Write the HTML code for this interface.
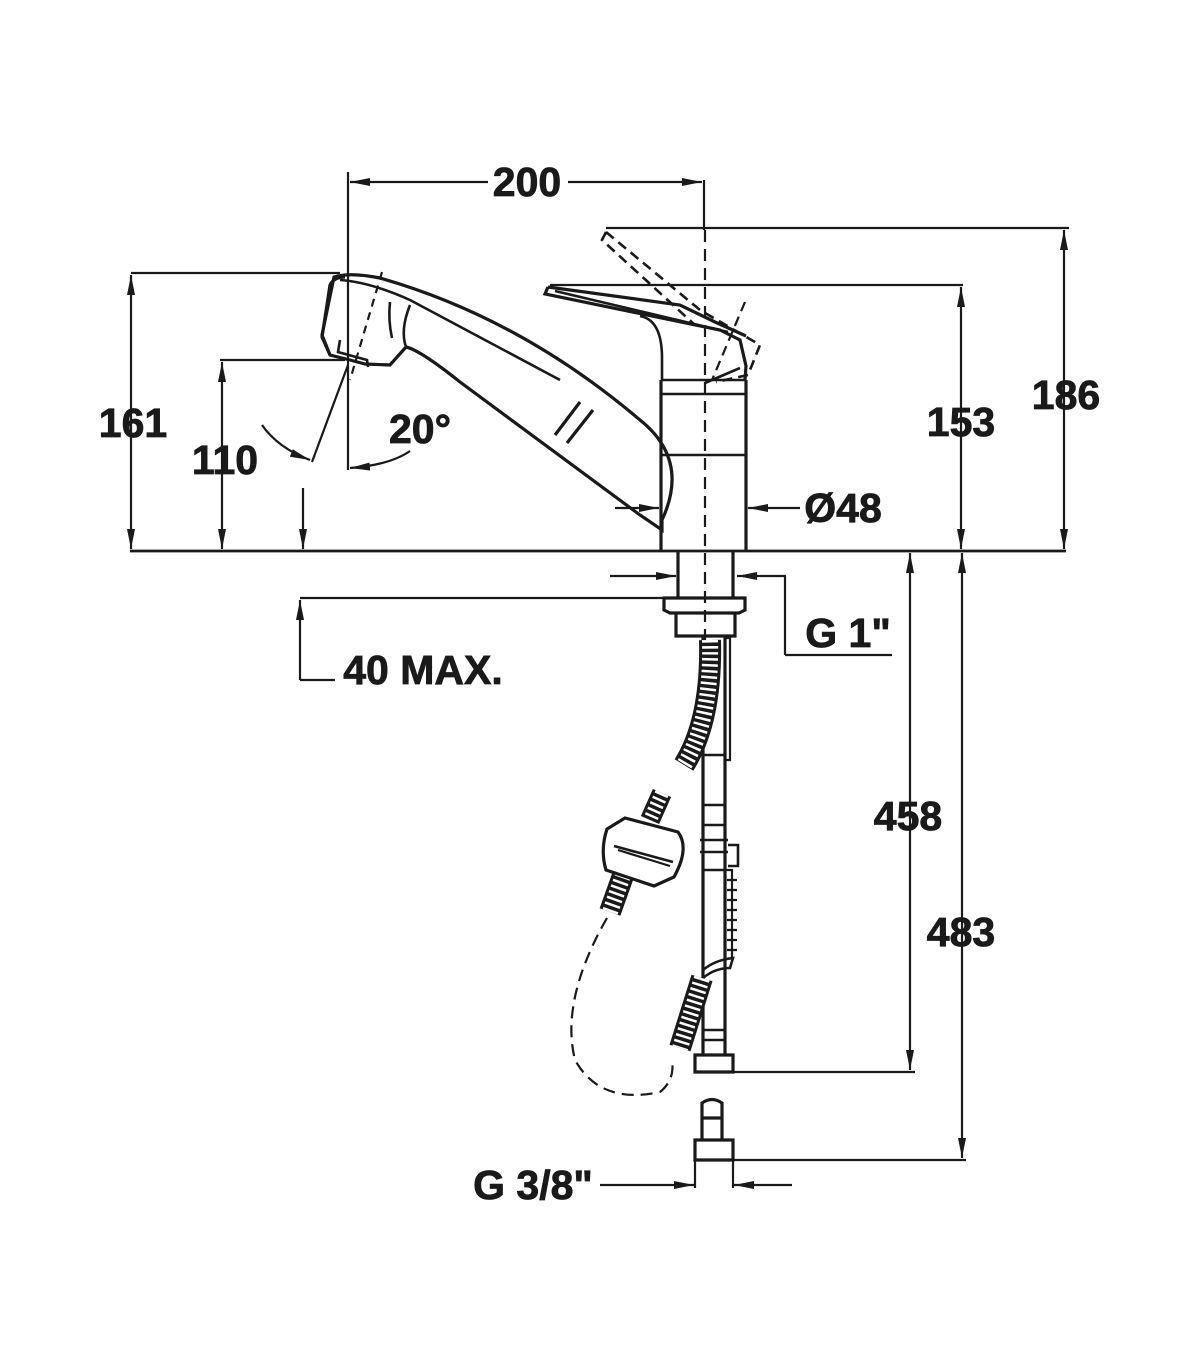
<!DOCTYPE html>
<html><head><meta charset="utf-8"><style>
html,body{margin:0;padding:0;background:#fff;}
svg{display:block;}
text{font-family:"Liberation Sans",sans-serif;font-weight:bold;font-size:41px;fill:#1a1a1a;stroke:#1a1a1a;stroke-width:0.8px;}
</style></head><body>
<svg width="1200" height="1372" viewBox="0 0 1200 1372" xmlns="http://www.w3.org/2000/svg">
<defs>
<marker id="a" viewBox="0 0 20 8" refX="20" refY="4" markerWidth="20" markerHeight="8" markerUnits="userSpaceOnUse" orient="auto-start-reverse"><path d="M0,0 L20,4 L0,8 Z" fill="#1a1a1a"/></marker>
</defs>
<g stroke="#1a1a1a" stroke-width="2.2" fill="none">
<line x1="130" y1="551" x2="1066" y2="551" stroke-width="2.8"/>
<line x1="348" y1="172" x2="348" y2="470"/>
<line x1="704" y1="180" x2="704" y2="230"/>
<line x1="350" y1="182" x2="488" y2="182" marker-start="url(#a)"/>
<line x1="568" y1="182" x2="702" y2="182" marker-end="url(#a)"/>
<line x1="131" y1="273" x2="340" y2="273"/>
<line x1="131" y1="275" x2="131" y2="549" marker-start="url(#a)" marker-end="url(#a)"/>
<line x1="220" y1="360" x2="345" y2="360"/>
<line x1="222" y1="362" x2="222" y2="549" marker-start="url(#a)" marker-end="url(#a)"/>
<line x1="303" y1="488" x2="303" y2="549" marker-end="url(#a)"/>
<line x1="348" y1="365" x2="312" y2="462"/>
<path d="M262,425 Q278,448 310,460" marker-end="url(#a)"/>
<path d="M410,451 Q390,465 350,468" marker-end="url(#a)"/>
<line x1="550" y1="285" x2="963" y2="285"/>
<line x1="961" y1="287" x2="961" y2="549" marker-start="url(#a)" marker-end="url(#a)"/>
<line x1="606" y1="228" x2="1069" y2="228"/>
<line x1="1064" y1="230" x2="1064" y2="549" marker-start="url(#a)" marker-end="url(#a)"/>
<line x1="615" y1="508" x2="659" y2="508" marker-end="url(#a)"/>
<line x1="800" y1="508" x2="748" y2="508" marker-end="url(#a)"/>
<line x1="705" y1="230" x2="705" y2="650" stroke-dasharray="12 7"/>
<path d="M661,380 L661,551 M746,380 L746,551" stroke-width="3.2"/>
<path d="M661,380 L746,380 M661,394 L746,394 M661,455 L746,455" stroke-width="2.6"/>
<path d="M548,287 L545,294 L720,330 L740,340 L746,366 L745,380 M548,287 L680,305 L715,322 L746,336" stroke-width="3.2"/>
<path d="M662,380 L662,358 Q662,320 640,316 M555,291 L728,332" stroke-width="2.6"/>
<path d="M705,383 L740,368" stroke-width="2.6"/>
<path d="M606,232 L602,240 L695,325 M606,232 L700,310 L760,345 L748,375 L716,382" stroke-dasharray="10 6" stroke-width="2.6"/>
<path d="M745,302 L712,380" stroke-dasharray="10 6" stroke-width="2.2"/>
<path d="M334,277 Q350,272 380,278 Q520,318 640,420 Q690,460 662,520 L662,530 L640,515 L460,382 Q420,350 406,347 L390,365 L365,364 L350,360 L330,355 L322,335 Z" stroke-width="3.2"/>
<path d="M330,355 L322,337 L330,285 Q334,277 345,277" stroke-width="3.2"/>
<path d="M340,340 L338,352 L367,360 L368,367" stroke-width="2.6"/>
<path d="M406,347 Q400,330 410,305 M390,302 Q388,320 392,338" stroke-width="2.6"/>
<path d="M340,280 Q370,282 410,300 L560,380" stroke-width="2.6"/>
<path d="M382,272 L350,380" stroke-dasharray="8 6" stroke-width="2.2"/>
<path d="M580,402 L555,435 M593,410 L567,443" stroke-width="3.2"/>
<path d="M678,551 L678,598 M733,551 L733,598" stroke-width="3.2"/>
<path d="M664,598 L745,598 L745,610 L739,613 L670,613 L664,610 Z" stroke-width="3.2"/>
<path d="M676,613 L676,636 L735,636 L735,613" stroke-width="3.2"/>
<line x1="610" y1="576" x2="676" y2="576" marker-end="url(#a)"/>
<path d="M785,655 L785,576 L737,576" marker-end="url(#a)"/>
<line x1="785" y1="655" x2="892" y2="655"/>
<line x1="300" y1="598" x2="664" y2="598"/>
<line x1="300" y1="680" x2="300" y2="600" marker-end="url(#a)"/>
<line x1="300" y1="680" x2="335" y2="680"/>
<line x1="700" y1="1072" x2="915" y2="1072"/>
<line x1="910" y1="553" x2="910" y2="1070" marker-start="url(#a)" marker-end="url(#a)"/>
<line x1="733" y1="1160" x2="966" y2="1160"/>
<line x1="962" y1="553" x2="962" y2="1158" marker-start="url(#a)" marker-end="url(#a)"/>
<line x1="600" y1="1185" x2="694" y2="1185" marker-end="url(#a)"/>
<line x1="792" y1="1185" x2="734" y2="1185" marker-end="url(#a)"/>
<line x1="695" y1="1160" x2="695" y2="1188"/><line x1="733" y1="1160" x2="733" y2="1188"/>
<path d="M695,1140 L733,1140 L733,1160 L695,1160 Z" stroke-width="3.2"/>
<path d="M702,1140 L702,1103 Q712,1096 722,1103 L722,1140 M702,1118 L722,1118" stroke-width="3.2"/>
<path d="M703,636 L703,1055 M725,636 L725,1055" stroke-width="3.2"/>
<path d="M725,638 L730,638 L730,760 L725,760" stroke-width="2.2"/>
<path d="M703,755 L725,755 M703,805 L725,805 M703,825 L725,825 M700,840 L728,840 M700,852 L728,852 M703,870 L725,870 M703,1030 L725,1030 M703,1040 L725,1040" stroke-width="2.6"/>
<path d="M728,845 L738,845 L738,866 L728,866" stroke-width="2.6"/>
<path d="M725,870 L732,870 L732,960" stroke-width="2.2"/>
<path d="M727,880 L737,880 M727,890 L737,890 M727,900 L737,900 M727,910 L737,910 M727,920 L737,920 M727,930 L737,930 M727,940 L737,940 M727,950 L737,950" stroke-width="2.2"/>
<path d="M703,970 Q715,960 733,958 L730,968 Q715,968 703,978" stroke-width="2.6"/>
<path d="M695,1055 L733,1055 L733,1072 L695,1072 Z" stroke-width="3.2"/>
<path d="M710,640 Q712,720 684,765" stroke="#1a1a1a" stroke-width="22"/>
<path d="M710,640 Q712,720 684,765" stroke="#fff" stroke-width="16" stroke-dasharray="2.5 3.5"/>
<path d="M702,978 L680,1048" stroke="#1a1a1a" stroke-width="22"/>
<path d="M702,978 L680,1048" stroke="#fff" stroke-width="16" stroke-dasharray="2.5 3.5"/>
<path d="M662,793 L650,820" stroke="#1a1a1a" stroke-width="20"/>
<path d="M662,793 L650,820" stroke="#fff" stroke-width="14" stroke-dasharray="2.5 3.5"/>
<path d="M625,870 L610,912" stroke="#1a1a1a" stroke-width="22"/>
<path d="M625,870 L610,912" stroke="#fff" stroke-width="16" stroke-dasharray="2.5 3.5"/>
<path d="M625,818 L678,832 Q690,848 674,877 L654,886 L606,870 Q600,850 607,829 Z" fill="#fff" stroke-width="3.2"/>
<path d="M614,846 L673,862" stroke-width="2.6"/>
<path d="M618,850 L670,866" stroke-width="2.2"/>
<path d="M607,918 Q560,1000 575,1060 Q600,1105 660,1092 Q675,1080 672,1060" stroke-dasharray="12 7" stroke-width="2.2"/>
</g>
<g>
<text x="527" y="196" text-anchor="middle">200</text>
<text x="133" y="437" text-anchor="middle">161</text>
<text x="225" y="474" text-anchor="middle">110</text>
<text x="420" y="443" text-anchor="middle">20°</text>
<text x="961" y="436" text-anchor="middle">153</text>
<text x="1066" y="409" text-anchor="middle">186</text>
<text x="843" y="522" text-anchor="middle">Ø48</text>
<text x="848" y="647" text-anchor="middle">G 1"</text>
<text x="423" y="684" text-anchor="middle">40 MAX.</text>
<text x="908" y="830" text-anchor="middle">458</text>
<text x="961" y="946" text-anchor="middle">483</text>
<text x="533" y="1199" text-anchor="middle">G 3/8"</text>
</g>
</svg>
</body></html>
